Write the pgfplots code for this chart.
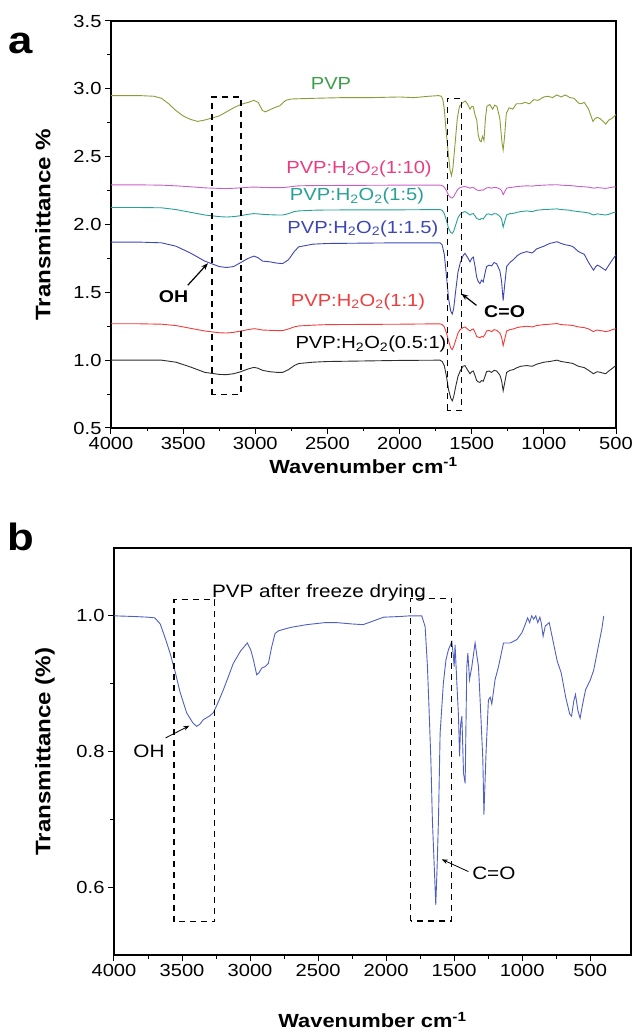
\documentclass[border=0pt]{standalone}
\usepackage{fontspec}
\setmainfont{Liberation Sans}[FakeStretch=1.15]
\usepackage{pgfplots}
\pgfplotsset{compat=1.18}
\usetikzlibrary{arrows.meta}

\definecolor{cpvp}{RGB}{140,155,55}
\definecolor{cpvplab}{RGB}{60,160,75}
\definecolor{cten}{RGB}{200,95,200}
\definecolor{ctenlab}{RGB}{235,60,130}
\definecolor{cfive}{RGB}{40,160,150}
\definecolor{cblue}{RGB}{60,70,180}
\definecolor{cred}{RGB}{240,60,60}
\definecolor{cblack}{RGB}{45,45,45}
\definecolor{cfd}{RGB}{80,95,195}

\tikzset{dbox/.style={black, line width=1.3pt, dash pattern=on 6pt off 5pt}}
\pgfplotsset{
  ftir/.style={
    scale only axis, x dir=reverse,
    axis line style={line width=1.1pt},
    tick style={line width=1pt, black},
    tick align=outside,
    major tick length=6pt, minor tick length=3.5pt,
    xtick pos=bottom, ytick pos=left,
    minor x tick num=1, minor y tick num=1,
    /pgf/number format/assume math mode=true,
    every tick label/.append style={font=\fontsize{17.5}{20}\selectfont},
    x tick label style={/pgf/number format/1000 sep={}},
    y tick label style={/pgf/number format/.cd, fixed, fixed zerofill, precision=1},
    every axis plot/.append style={line width=0.9pt, no markers},
  },
}

\begin{document}
\begin{tikzpicture}[x=1pt,y=1pt]
\useasboundingbox (0,0) rectangle (633,1035);

\node[font=\bfseries\fontsize{38}{40}\selectfont] at (21,992) {a};
\node[font=\bfseries\fontsize{38}{40}\selectfont] at (21,498) {b};

% ---------------- panel a ----------------
\begin{axis}[ftir,
  at={(111pt,607pt)}, anchor=south west,
  width=505pt, height=407pt,
  xmin=500, xmax=4000, ymin=0.5, ymax=3.5,
  xtick={500,1000,...,4000}, ytick={0.5,1.0,...,3.5},
  xlabel={Wavenumber cm\textsuperscript{-1}},
  ylabel={Transmittance \%},
  every axis x label/.style={at={(axis description cs:0.5,-0.092)},anchor=center,font=\bfseries\fontsize{19}{22}\selectfont},
  every axis y label/.style={at={(axis description cs:-0.135,0.5)},rotate=90,anchor=center,font=\bfseries\fontsize{21}{24}\selectfont},
]
% PVP
\addplot[cpvp] coordinates {(4000,2.95)(3800,2.95)(3700,2.945)(3650,2.93)(3600,2.89)(3550,2.84)(3500,2.80)(3450,2.775)(3400,2.76)(3350,2.77)(3300,2.785)(3250,2.80)(3200,2.83)(3150,2.86)(3100,2.885)(3050,2.90)(3010,2.915)(2980,2.90)(2950,2.84)(2930,2.83)(2900,2.845)(2870,2.86)(2830,2.875)(2790,2.915)(2750,2.925)(2600,2.93)(2400,2.935)(2200,2.935)(2000,2.94)(1900,2.935)(1800,2.945)(1730,2.95)(1710,2.945)(1700,2.92)(1690,2.85)(1680,2.72)(1665,2.55)(1650,2.40)(1640,2.36)(1630,2.42)(1615,2.60)(1600,2.78)(1585,2.87)(1560,2.90)(1545,2.91)(1530,2.89)(1512,2.85)(1500,2.87)(1490,2.87)(1475,2.80)(1465,2.77)(1455,2.66)(1445,2.62)(1435,2.61)(1425,2.65)(1415,2.62)(1405,2.78)(1395,2.87)(1375,2.885)(1355,2.85)(1340,2.88)(1325,2.87)(1305,2.78)(1290,2.60)(1282,2.55)(1272,2.65)(1260,2.82)(1240,2.86)(1215,2.85)(1190,2.89)(1160,2.89)(1130,2.90)(1100,2.89)(1070,2.92)(1040,2.915)(1000,2.94)(970,2.945)(940,2.935)(910,2.955)(880,2.94)(850,2.955)(820,2.935)(790,2.93)(760,2.895)(740,2.89)(720,2.90)(690,2.85)(660,2.76)(645,2.78)(630,2.79)(610,2.78)(590,2.76)(570,2.74)(550,2.77)(530,2.78)(500,2.81)};
% 1:10
\addplot[cten] coordinates {(4000,2.292)(3800,2.292)(3650,2.29)(3550,2.285)(3450,2.278)(3350,2.27)(3250,2.266)(3200,2.265)(3150,2.267)(3100,2.27)(3050,2.274)(3009,2.276)(2980,2.275)(2950,2.273)(2900,2.272)(2850,2.272)(2810,2.272)(2770,2.276)(2730,2.282)(2700,2.285)(2600,2.287)(2000,2.29)(1720,2.29)(1705,2.287)(1690,2.275)(1675,2.25)(1660,2.215)(1645,2.198)(1635,2.195)(1625,2.205)(1610,2.235)(1595,2.26)(1580,2.272)(1560,2.278)(1547,2.28)(1530,2.275)(1512,2.268)(1500,2.272)(1489,2.273)(1475,2.262)(1466,2.255)(1455,2.252)(1443,2.25)(1432,2.255)(1420,2.253)(1408,2.262)(1397,2.27)(1380,2.272)(1362,2.268)(1345,2.273)(1327,2.272)(1305,2.262)(1293,2.25)(1282,2.22)(1272,2.24)(1258,2.268)(1235,2.273)(1212,2.275)(1185,2.28)(1160,2.282)(1120,2.285)(1080,2.283)(1050,2.287)(1000,2.29)(960,2.292)(909,2.293)(880,2.29)(850,2.288)(820,2.287)(798,2.285)(760,2.28)(720,2.278)(690,2.275)(656,2.268)(640,2.27)(629,2.272)(610,2.27)(590,2.268)(572,2.266)(550,2.27)(525,2.275)(502,2.278)};
% 1:5
\addplot[cfive] coordinates {(4000,2.125)(3800,2.125)(3650,2.123)(3550,2.11)(3450,2.09)(3350,2.07)(3250,2.058)(3200,2.055)(3150,2.058)(3100,2.065)(3050,2.075)(3009,2.08)(2980,2.078)(2950,2.075)(2900,2.072)(2850,2.07)(2810,2.07)(2770,2.08)(2730,2.095)(2700,2.10)(2600,2.105)(2500,2.107)(2000,2.108)(1720,2.11)(1705,2.105)(1690,2.08)(1675,2.03)(1660,1.97)(1645,1.94)(1635,1.935)(1625,1.95)(1610,2.00)(1595,2.05)(1580,2.075)(1560,2.09)(1547,2.095)(1530,2.085)(1512,2.07)(1500,2.078)(1489,2.08)(1475,2.06)(1466,2.045)(1455,2.04)(1443,2.035)(1432,2.045)(1420,2.04)(1408,2.06)(1397,2.075)(1380,2.078)(1362,2.07)(1345,2.08)(1327,2.078)(1305,2.06)(1293,2.04)(1282,1.98)(1272,2.02)(1258,2.07)(1235,2.08)(1212,2.082)(1185,2.09)(1160,2.095)(1120,2.10)(1080,2.095)(1050,2.105)(1000,2.11)(960,2.112)(909,2.115)(880,2.11)(850,2.108)(820,2.105)(798,2.10)(760,2.095)(720,2.09)(690,2.085)(656,2.07)(640,2.075)(629,2.078)(610,2.075)(590,2.072)(572,2.07)(550,2.075)(525,2.085)(502,2.092)};
% 1:1.5
\addplot[cblue] coordinates {(4000,1.87)(3800,1.87)(3650,1.865)(3550,1.84)(3450,1.79)(3350,1.73)(3250,1.69)(3200,1.683)(3150,1.69)(3100,1.72)(3050,1.75)(3009,1.767)(2980,1.755)(2950,1.73)(2900,1.725)(2850,1.715)(2810,1.712)(2770,1.74)(2730,1.80)(2700,1.835)(2600,1.855)(2500,1.86)(2000,1.865)(1720,1.865)(1705,1.85)(1690,1.78)(1675,1.62)(1660,1.45)(1645,1.36)(1635,1.34)(1625,1.38)(1610,1.52)(1595,1.65)(1580,1.715)(1560,1.77)(1547,1.787)(1530,1.76)(1512,1.725)(1500,1.75)(1489,1.76)(1475,1.68)(1466,1.614)(1455,1.58)(1443,1.564)(1432,1.59)(1420,1.577)(1408,1.64)(1397,1.69)(1380,1.70)(1362,1.695)(1345,1.72)(1327,1.71)(1305,1.66)(1293,1.58)(1282,1.44)(1272,1.55)(1258,1.69)(1235,1.72)(1212,1.74)(1185,1.77)(1160,1.787)(1120,1.80)(1080,1.79)(1050,1.82)(1000,1.84)(960,1.86)(909,1.873)(880,1.86)(850,1.85)(820,1.845)(798,1.836)(760,1.80)(720,1.78)(690,1.72)(656,1.663)(640,1.69)(629,1.70)(610,1.69)(590,1.675)(572,1.663)(550,1.70)(525,1.74)(502,1.774)};
% 1:1
\addplot[cred] coordinates {(4000,1.268)(3800,1.268)(3650,1.265)(3550,1.255)(3450,1.235)(3350,1.215)(3250,1.202)(3200,1.20)(3150,1.205)(3100,1.215)(3050,1.225)(3009,1.232)(2980,1.228)(2950,1.222)(2900,1.22)(2850,1.218)(2810,1.218)(2770,1.23)(2730,1.245)(2700,1.252)(2600,1.258)(2500,1.262)(2000,1.265)(1720,1.268)(1705,1.262)(1690,1.245)(1675,1.20)(1660,1.14)(1645,1.09)(1635,1.078)(1625,1.10)(1610,1.15)(1595,1.20)(1580,1.225)(1560,1.24)(1547,1.245)(1530,1.23)(1512,1.215)(1500,1.225)(1489,1.23)(1475,1.20)(1466,1.175)(1455,1.17)(1443,1.165)(1432,1.175)(1420,1.17)(1408,1.19)(1397,1.215)(1380,1.22)(1362,1.21)(1345,1.225)(1327,1.22)(1305,1.20)(1293,1.17)(1282,1.107)(1272,1.15)(1258,1.215)(1235,1.225)(1212,1.23)(1185,1.24)(1160,1.245)(1120,1.25)(1080,1.245)(1050,1.255)(1000,1.262)(960,1.265)(909,1.27)(880,1.262)(850,1.26)(820,1.258)(798,1.255)(760,1.245)(720,1.24)(690,1.23)(656,1.21)(640,1.22)(629,1.222)(610,1.218)(590,1.215)(572,1.21)(550,1.215)(525,1.225)(502,1.232)};
% 0.5:1
\addplot[cblack] coordinates {(4000,1.0)(3800,1.0)(3650,1.0)(3550,0.985)(3450,0.95)(3350,0.91)(3250,0.895)(3200,0.893)(3150,0.90)(3100,0.915)(3050,0.935)(3009,0.947)(2980,0.94)(2950,0.925)(2900,0.915)(2850,0.91)(2810,0.91)(2770,0.93)(2730,0.96)(2700,0.975)(2600,0.985)(2500,0.99)(2000,0.998)(1720,1.0)(1705,0.99)(1690,0.96)(1675,0.88)(1660,0.78)(1645,0.72)(1635,0.70)(1625,0.73)(1610,0.81)(1595,0.88)(1580,0.92)(1560,0.955)(1547,0.96)(1530,0.93)(1512,0.90)(1500,0.915)(1489,0.92)(1475,0.88)(1466,0.85)(1455,0.84)(1443,0.836)(1432,0.85)(1420,0.845)(1408,0.88)(1397,0.915)(1380,0.92)(1362,0.91)(1345,0.925)(1327,0.92)(1305,0.89)(1293,0.85)(1282,0.774)(1272,0.83)(1258,0.91)(1235,0.925)(1212,0.93)(1185,0.945)(1160,0.955)(1120,0.96)(1080,0.955)(1050,0.97)(1000,0.985)(960,0.99)(909,1.0)(880,0.99)(850,0.985)(820,0.98)(798,0.975)(760,0.955)(720,0.945)(690,0.925)(656,0.90)(640,0.91)(629,0.915)(610,0.91)(590,0.905)(572,0.90)(550,0.92)(525,0.94)(502,0.96)};

\draw[dbox] (axis cs:3300,0.745) rectangle (axis cs:3100,2.94);
\draw[dbox] (axis cs:1670,0.63) rectangle (axis cs:1570,2.93);

\begin{scope}[every node/.style={font=\fontsize{17.5}{20}\selectfont}]
\node[text=cpvplab] at (axis cs:2475,3.04) {PVP};
\node[text=ctenlab] at (axis cs:2281,2.41) {PVP:H\textsubscript{2}O\textsubscript{2}(1:10)};
\node[text=cfive] at (axis cs:2295,2.21) {PVP:H\textsubscript{2}O\textsubscript{2}(1:5)};
\node[text=cblue] at (axis cs:2254,1.97) {PVP:H\textsubscript{2}O\textsubscript{2}(1:1.5)};
\node[text=cred] at (axis cs:2288,1.43) {PVP:H\textsubscript{2}O\textsubscript{2}(1:1)};
\node[text=black] at (axis cs:2198,1.12) {PVP:H\textsubscript{2}O\textsubscript{2}(0.5:1)};
\end{scope}
\node[font=\bfseries\fontsize{17}{20}\selectfont] at (axis cs:3566,1.465) {OH};
\node[font=\bfseries\fontsize{17}{20}\selectfont] at (axis cs:1272,1.354) {C=O};
\draw[-{Stealth[length=7pt]}, line width=1.2pt] (axis cs:3468,1.552) -- (axis cs:3328,1.715);
\draw[-{Stealth[length=7pt]}, line width=1.2pt] (axis cs:1467,1.404) -- (axis cs:1571,1.49);
\end{axis}

% ---------------- panel b ----------------
\begin{axis}[ftir,
  at={(114pt,80pt)}, anchor=south west,
  width=517pt, height=407pt,
  xmin=200, xmax=4000, ymin=0.5, ymax=1.1,
  xtick={500,1000,...,4000}, ytick={0.6,0.8,1.0},
  minor ytick={0.7,0.9}, minor x tick num=1,
  xlabel={Wavenumber cm\textsuperscript{-1}},
  ylabel={Transmittance (\%)},
  every axis x label/.style={at={(axis description cs:0.5,-0.16)},anchor=center,font=\bfseries\fontsize{19}{22}\selectfont},
  every axis y label/.style={at={(axis description cs:-0.1335,0.5)},rotate=90,anchor=center,font=\bfseries\fontsize{21}{24}\selectfont},
]
\addplot[cfd] coordinates {(4000,1.0)(3850,0.999)(3750,0.998)(3700,0.997)(3660,0.988)(3620,0.965)(3588,0.945)(3551,0.918)(3515,0.888)(3466,0.857)(3420,0.842)(3392,0.837)(3370,0.840)(3343,0.847)(3300,0.852)(3270,0.857)(3240,0.870)(3196,0.891)(3160,0.910)(3123,0.930)(3070,0.948)(3020,0.960)(2995,0.950)(2975,0.935)(2951,0.913)(2935,0.916)(2914,0.923)(2890,0.925)(2865,0.930)(2840,0.955)(2816,0.974)(2790,0.978)(2755,0.980)(2700,0.983)(2583,0.987)(2450,0.990)(2363,0.990)(2250,0.988)(2169,0.987)(2100,0.992)(2018,0.998)(1900,0.999)(1824,1.0)(1738,1.0)(1713,0.984)(1696,0.925)(1684,0.861)(1671,0.788)(1660,0.70)(1648,0.64)(1635,0.574)(1625,0.63)(1615,0.70)(1603,0.827)(1579,0.901)(1560,0.935)(1542,0.950)(1517,0.962)(1505,0.94)(1500,0.925)(1493,0.957)(1480,0.901)(1468,0.852)(1460,0.793)(1452,0.84)(1443,0.852)(1431,0.768)(1419,0.753)(1407,0.925)(1399,0.945)(1387,0.906)(1370,0.925)(1346,0.960)(1321,0.925)(1309,0.876)(1289,0.788)(1281,0.707)(1265,0.80)(1248,0.876)(1235,0.88)(1223,0.87)(1199,0.906)(1174,0.925)(1137,0.96)(1088,0.96)(1039,0.965)(1002,0.975)(978,0.987)(960,0.997)(945,0.99)(930,1.0)(915,0.995)(900,1.0)(885,0.99)(870,0.998)(860,0.99)(846,0.97)(830,0.985)(801,0.99)(770,0.96)(742,0.933)(713,0.916)(680,0.88)(650,0.855)(637,0.852)(620,0.875)(608,0.884)(590,0.86)(574,0.849)(560,0.865)(534,0.891)(500,0.905)(474,0.92)(440,0.955)(415,0.98)(400,1.0)};

\draw[dbox] (axis cs:3560,0.549) rectangle (axis cs:3260,1.024);
\draw[dbox] (axis cs:1820,0.55) rectangle (axis cs:1520,1.026);
\node[font=\fontsize{18}{20}\selectfont] at (axis cs:2493,1.034) {PVP after freeze drying};
\node[font=\fontsize{18}{20}\selectfont] at (axis cs:3743,0.80) {OH};
\node[font=\fontsize{18}{20}\selectfont] at (axis cs:1208,0.62) {C=O};
\draw[-{Stealth[length=6pt]}, line width=0.8pt] (axis cs:3621,0.82) -- (axis cs:3446,0.838);
\draw[-{Stealth[length=6pt]}, line width=0.8pt] (axis cs:1395,0.623) -- (axis cs:1591,0.641);
\end{axis}
\end{tikzpicture}
\end{document}
